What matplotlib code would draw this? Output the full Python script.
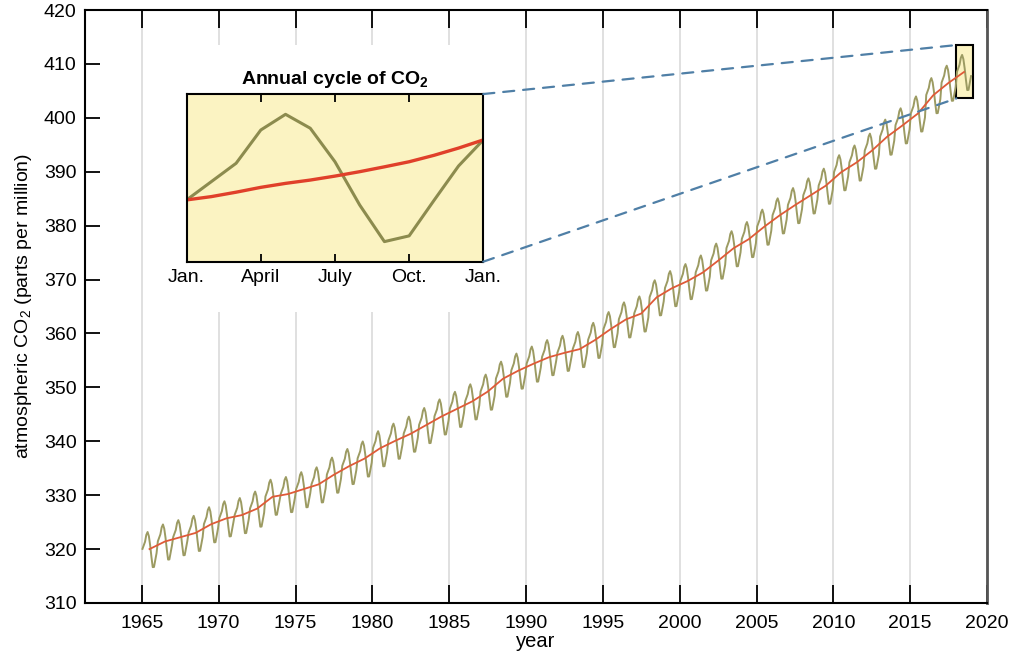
import numpy as np
import matplotlib
matplotlib.use("Agg")
from matplotlib import pyplot as plt
from matplotlib.patches import Rectangle, ConnectionPatch

plt.rcParams['font.family'] = ['Liberation Sans', 'DejaVu Sans']
plt.rcParams['mathtext.fontset'] = 'custom'
plt.rcParams['mathtext.rm'] = 'Liberation Sans'
plt.rcParams['mathtext.bf'] = 'Liberation Sans:bold'

# annual mean CO2 (ppm)
years = np.arange(1965, 2019)
annual_ppm = [320.0, 321.4, 322.2, 323.0, 324.6, 325.7, 326.3, 327.5, 329.7, 330.2,
              331.1, 332.0, 333.8, 335.4, 336.8, 338.7, 340.1, 341.4, 343.0, 344.6,
              346.0, 347.4, 349.2, 351.6, 353.1, 354.4, 355.6, 356.4, 357.1, 358.8,
              360.8, 362.6, 363.7, 366.7, 368.4, 369.7, 371.3, 373.5, 375.8, 377.5,
              379.8, 381.9, 383.8, 385.6, 387.4, 389.9, 391.7, 393.9, 396.5, 398.6,
              400.8, 404.2, 406.5, 408.5]
# seasonal deviation from the trend, Jan..Dec (from the inset)
season_dev = [0.04, 0.72, 1.35, 2.64, 3.17, 2.39, 0.69, -1.47, -3.35, -3.32, -2.08, -0.75]

# inset: one year, Jan to Jan
inset_months = np.arange(13)
inset_ppm = [407.3, 408.13, 408.96, 410.47, 411.18, 410.55, 409.03, 407.07,
             405.41, 405.67, 407.27, 408.84, 410.02]
inset_trend = [407.3, 407.45, 407.65, 407.87, 408.05, 408.2, 408.38, 408.58,
               408.8, 409.03, 409.32, 409.65, 410.02]
inset_ticks = [0, 3, 6, 9, 12]
inset_labels = ['Jan.', 'April', 'July', 'Oct.', 'Jan.']

# zoom box on the main chart
zoom_x0, zoom_x1 = 2018.0, 2019.1
zoom_y0, zoom_y1 = 403.6, 413.5

olive = '#8c8b4e'
red = '#e0402a'
cream = '#fbf3c2'

monthly_x = (years[:, None] + (np.arange(12)[None, :] + 0.5) / 12).ravel()
monthly_y = (np.array(annual_ppm)[:, None] + np.array(season_dev)[None, :]).ravel()

fig = plt.figure(figsize=(10.25, 6.58), dpi=100)
ax = fig.add_axes([0.0829, 0.0836, 0.8801, 0.9012])

ax.plot(monthly_x, monthly_y, color='#9c9b62', lw=1.4, zorder=3)
ax.plot(years + 0.5, annual_ppm, color='#df5a38', lw=1.3, zorder=4)

ax.add_patch(Rectangle((zoom_x0, zoom_y0), zoom_x1 - zoom_x0, zoom_y1 - zoom_y0,
                       facecolor=cream, edgecolor='black', lw=1.5, zorder=2))

ax.set_xlim(1961.3, 2020)
ax.set_ylim(310, 420)
ax.set_xticks(np.arange(1965, 2021, 5))
ax.set_yticks(np.arange(310, 421, 10))
ax.tick_params(axis='x', direction='in', top=True, length=13, width=1.3, pad=9, labelsize=14)
ax.tick_params(axis='y', direction='in', length=11, width=1.3, pad=6, labelsize=14)
ax.set_axisbelow(True)
ax.grid(axis='x', color='#dadada', lw=1.2)
for s in ['left', 'bottom', 'top']:
    ax.spines[s].set_linewidth(1.5)
ax.spines['right'].set_linewidth(2.0)
ax.spines['right'].set_color('#555555')
ax.set_xlabel('year', fontsize=14.5, labelpad=0)
ax.set_ylabel(r'atmospheric $\mathrm{CO_2}$ (parts per million)', fontsize=14, labelpad=7)

# white backing behind the inset hides the grid
ax.add_patch(Rectangle((0.146, 0.526), 0.356, 0.406, transform=fig.transFigure,
                       facecolor='white', edgecolor='none', zorder=1, clip_on=False))

ins = fig.add_axes([0.1821, 0.6023, 0.2894, 0.2548])
ins.set_facecolor(cream)
ins.plot(inset_months, inset_ppm, color=olive, lw=2.2)
ins.plot(inset_months, inset_trend, color=red, lw=2.4)
ins.set_xlim(0, 12)
ins.set_ylim(404.5, 412.1)
ins.set_xticks(inset_ticks)
ins.set_xticklabels(inset_labels)
ins.set_yticks([])
ins.tick_params(axis='x', direction='in', top=True, length=6, width=1.3, pad=5, labelsize=14)
for s in ins.spines.values():
    s.set_linewidth(1.5)
ins.set_title(r'Annual cycle of $\mathbf{CO_2}$', fontsize=14, fontweight='bold', pad=7)

for ya, yb in [((1, 1), zoom_y1), ((1, 0), zoom_y0)]:
    con = ConnectionPatch(xyA=ya, coordsA=ins.transAxes, xyB=(zoom_x0, yb), coordsB=ax.transData,
                          color='#4f7fa6', lw=1.6, ls=(0, (5, 4)), zorder=5)
    fig.add_artist(con)

fig.savefig('out.png', dpi=100)
